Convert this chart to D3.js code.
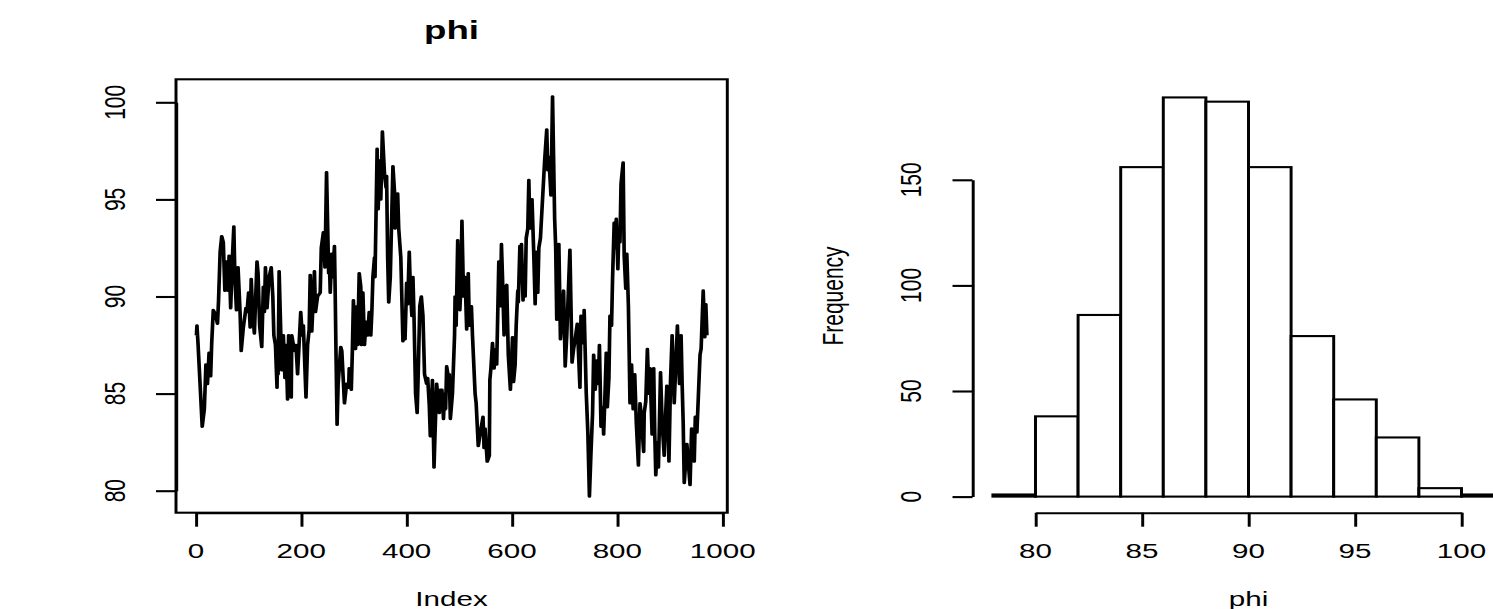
<!DOCTYPE html>
<html>
<head>
<meta charset="utf-8">
<script src="https://cdn.jsdelivr.net/npm/d3@7"></script>
<style>
  body { margin: 0; background: #fff; }
  svg { display: block; }
  text { font-family: "Liberation Sans", Arial, Helvetica, sans-serif; fill: #000; }
</style>
</head>
<body>
<div id="chart"></div>
<script>
// trace of phi: [index, value] at its turning points
var phiTrace = [
  [1,88.0],[2,88.5],[4,87.6],[12,83.3],[16,84.2],[19,86.5],[22,85.5],[25,87.1],[28,85.9],[30,87.6],
  [33,89.3],[37,89.1],[41,88.6],[43,89.8],[46,92.3],[49,93.1],[52,92.8],[55,90.3],[58,91.8],[61,90.3],
  [63,92.1],[66,89.4],[69,91.8],[72,93.6],[74,91],[77,89.3],[80,91.5],[84,89.1],[86,87.2],[90,88.4],
  [95,89.4],[97,89.2],[100,90.2],[103,88.4],[105,90.9],[108,89.1],[111,88.1],
  [116,91.8],[118,91.2],[121,88.5],[125,87.4],[128,90.5],[130,89.2],[132,91.5],[135,89.4],[139,91],
  [143,91.5],[146,90],[148,88],[151,87.5],[154,85.3],[155,87.5],[156,86],[158,91.3],[163,86.2],[166,88],
  [169,85.8],[171,87.5],[174,84.7],[176,88],[181,84.8],[182,88],[187,87.2],[190,87.5],[193,86],[199,89.2],
  [202,88],[204,88.5],[209,84.8],[212,87.5],[215,88.3],[217,91.1],[220,88.2],[225,91.3],[227,89.2],[231,90],
  [236,90.2],[238,92.5],[242,93.3],[245,91.5],[248,96.4],[252,91.2],[253,92.2],[255,90.2],[258,92.2],[260,91],
  [263,92.6],[264,91],[266,87],[268,83.4],[270,85.5],[275,87.4],[277,87.2],[282,84.5],[286,85.5],[290,85.3],
  [291,86.3],[295,85.2],[297,87.2],[299,89.8],[303,87.3],[306,89.5],[307,87.5],[310,91.2],[313,90.5],[314,87.5],
  [317,90.2],[320,87.5],[323,88.7],[326,88],[329,89.2],[332,88],[334,89.2],[336,91],[339,92],[340,91],
  [344,97.6],[346,94.5],[349,97],[351,95],[354,98.5],[358,96.3],[361,95.6],[362,96.2],[364,92],[366,89.7],
  [369,91],[374,96.7],[377,95.4],[378,93.5],[380,94.5],[383,95.3],[385,93.5],[389,92],[393,87.7],[395,88.3],
  [397,87.8],[400,90.7],[402,89.6],[405,92.3],[407,90.5],[410,89],[412,91],[414,89],[417,85],[420,84],
  [422,86],[425,89.5],[428,90],[431,89],[434,86],[438,85.5],[440,85.8],[443,84.4],[445,82.8],[449,85.7],
  [452,81.2],[454,83],[457,85.5],[462,84],[464,85.2],[465,84.4],[467,85.2],[470,83.7],[472,85],[474,84.2],
  [476,86.4],[480,85.7],[481,86],[483,83.7],[487,85],[491,88],[492,90],[494,88.5],[497,92.9],[501,89.3],
  [503,90.5],[505,93.9],[508,90],[511,91],[514,88.3],[517,91.2],[519,88.5],[523,89.5],[525,88],[530,85],
  [532,84.5],[536,82.3],[540,83],[545,83.8],[547,82.2],[549,83.2],[553,81.5],[557,81.8],[558,85.7],[560,86.3],
  [563,87.6],[566,86.3],[569,87.3],[571,86.5],[575,91.8],[578,89.5],[580,92.7],[582,91],[585,88],[588,90.5],
  [590,90.6],[593,87],[597,85.2],[601,87.9],[603,85.6],[606,86.5],[608,88.5],[611,90.3],[612,89.7],[615,92.6],
  [617,91.5],[618,92.7],[621,89.8],[623,91.5],[625,90],[627,93],[630,93.5],[632,96],[634,93.5],[638,95],
  [641,92.5],[644,89.6],[646,92.3],[649,90.2],[651,92.5],[654,93],[656,94],[660,96],[662,97],[666,98.6],
  [668,96.5],[670,97.2],[674,95.2],[677,100.3],[681,94],[683,92.5],[685,88.8],[689,92.7],[692,87.8],[698,90.3],
  [701,86.4],[704,88],[708,91],[710,92.4],[714,86.6],[717,87.3],[720,87.8],[724,88.6],[729,85.3],[731,89],
  [736,87.6],[737,89.3],[741,85],[744,83],[747,79.7],[750,82],[753,84],[755,87],[758,85.2],[761,86.7],
  [764,85.5],[766,87.5],[769,83.3],[772,84.3],[774,82.9],[776,84.5],[779,87.1],[781,84.3],[784,85.8],[786,89],
  [789,88.5],[791,91],[794,93.8],[796,92.5],[798,94],[801,91.4],[803,93.5],[805,92.8],[807,95.8],[811,96.9],
  [813,92.1],[816,90.4],[818,92.2],[821,89.5],[824,84.5],[827,86.5],[830,84.2],[833,86],[836,83.5],[840,81.3],
  [843,84.5],[845,84],[850,82],[851,84],[854,84.6],[857,87.3],[860,85],[862,86.3],[866,82.9],[869,86.3],
  [871,83],[873,80.8],[876,82.5],[878,81.2],[882,86.1],[885,83.5],[889,81.8],[891,83.5],[894,85.4],[898,81.5],
  [901,85.7],[904,88],[908,84.5],[911,86.5],[914,88.5],[918,85.5],[921,88],[923,85.5],[925,83.5],[927,80.4],
  [932,82.4],[938,80.3],[941,83.2],[946,81.5],[948,83.8],[951,83],[954,85],[957,87],[959,87.3],[963,90.3],
  [966,87.9],[968,89.6],[970,88]
];

// histogram of phi
var histBreaks = [78, 80, 82, 84, 86, 88, 90, 92, 94, 96, 98, 100, 102];
var histCounts = [1, 38, 86, 156, 189, 187, 156, 76, 46, 28, 4, 1];

// tick labels
var traceXTicks = [0, 200, 400, 600, 800, 1000];
var traceYTicks = [80, 85, 90, 95, 100];
var histXTicks = [80, 85, 90, 95, 100];
var histYTicks = [0, 50, 100, 150];

var width = 1493, height = 609;
var sx = 1.41; // the source picture is stretched sideways, text included
function px(x) { return x / sx; }

var svg = d3.select("#chart").append("svg").attr("width", width).attr("height", height);
var g = svg.append("g").attr("transform", "scale(" + sx + ",1)");

var lw = 2.1;
var fs = 21;

function rotLabel(sel, x, y, txt) {
  sel.append("text")
    .attr("transform", "translate(" + x + "," + y + ") rotate(-90)")
    .attr("text-anchor", "middle")
    .attr("font-size", fs)
    .text(txt);
}

function styleAxis(a) {
  a.selectAll("path.domain").attr("stroke", "#000").attr("stroke-width", lw);
  a.selectAll(".tick line").attr("stroke", "#000").attr("stroke-width", lw);
  a.selectAll(".tick text").remove();
}

// ---- left: trace plot ----
var plotTop = 79.3, plotBottom = 512.7;
var xScale = d3.scaleLinear().domain([0, 1000]).range([px(195.9), px(722.7)]);
var yScale = d3.scaleLinear().domain([80, 100]).range([490.7, 102.3]);

var line = d3.line()
  .x(function(d) { return xScale(d[0]); })
  .y(function(d) { return yScale(d[1]); });

g.append("path")
  .datum(phiTrace)
  .attr("d", line)
  .attr("fill", "none")
  .attr("stroke", "#000")
  .attr("stroke-width", 2.6)
  .attr("stroke-linejoin", "round");

g.append("rect")
  .attr("x", px(176)).attr("y", plotTop)
  .attr("width", px(727.3) - px(176)).attr("height", plotBottom - plotTop)
  .attr("fill", "none").attr("stroke", "#000").attr("stroke-width", lw);

var ax1 = g.append("g").attr("transform", "translate(0," + plotBottom + ")")
  .call(d3.axisBottom(xScale).tickValues(traceXTicks).tickSize(14).tickSizeOuter(0));
styleAxis(ax1);
var ay1 = g.append("g").attr("transform", "translate(" + px(176) + ",0)")
  .call(d3.axisLeft(yScale).tickValues(traceYTicks).tickSize(px(20)).tickSizeOuter(0));
styleAxis(ay1);

g.selectAll("text.tx1").data(traceXTicks).enter().append("text")
  .attr("class", "tx1")
  .attr("x", function(d) { return xScale(d); })
  .attr("y", 558)
  .attr("text-anchor", "middle")
  .attr("font-size", fs)
  .text(function(d) { return d; });

traceYTicks.forEach(function(d) { rotLabel(g, px(125), yScale(d), d); });

g.append("text")
  .attr("x", px(451.5)).attr("y", 39)
  .attr("text-anchor", "middle")
  .attr("font-size", 26).attr("font-weight", "bold")
  .text("phi");

g.append("text")
  .attr("x", px(451.5)).attr("y", 606)
  .attr("text-anchor", "middle")
  .attr("font-size", fs)
  .text("Index");

// ---- right: histogram ----
var hx = d3.scaleLinear().domain([80, 100]).range([px(1035.5), px(1461.5)]);
var hy = d3.scaleLinear().domain([0, 150]).range([496.6, 179.8]);

g.selectAll("rect.bar").data(histCounts).enter().append("rect")
  .attr("class", "bar")
  .attr("x", function(d, i) { return hx(histBreaks[i]); })
  .attr("width", function(d, i) { return hx(histBreaks[i + 1]) - hx(histBreaks[i]); })
  .attr("y", function(d) { return hy(d); })
  .attr("height", function(d) { return hy(0) - hy(d); })
  .attr("fill", "#fff")
  .attr("stroke", "#000")
  .attr("stroke-width", lw);

var ax2 = g.append("g").attr("transform", "translate(0," + plotBottom + ")")
  .call(d3.axisBottom(hx).tickValues(histXTicks).tickSize(14).tickSizeOuter(0));
styleAxis(ax2);
var ay2 = g.append("g").attr("transform", "translate(" + px(972.5) + ",0)")
  .call(d3.axisLeft(hy).tickValues(histYTicks).tickSize(px(20)).tickSizeOuter(0));
styleAxis(ay2);

g.selectAll("text.tx2").data(histXTicks).enter().append("text")
  .attr("class", "tx2")
  .attr("x", function(d) { return hx(d); })
  .attr("y", 558)
  .attr("text-anchor", "middle")
  .attr("font-size", fs)
  .text(function(d) { return d; });

histYTicks.forEach(function(d) { rotLabel(g, px(921.5), hy(d), d); });

rotLabel(g, px(843), (plotTop + plotBottom) / 2, "Frequency");

g.append("text")
  .attr("x", px(1248.5)).attr("y", 606)
  .attr("text-anchor", "middle")
  .attr("font-size", fs)
  .text("phi");
</script>
</body>
</html>
